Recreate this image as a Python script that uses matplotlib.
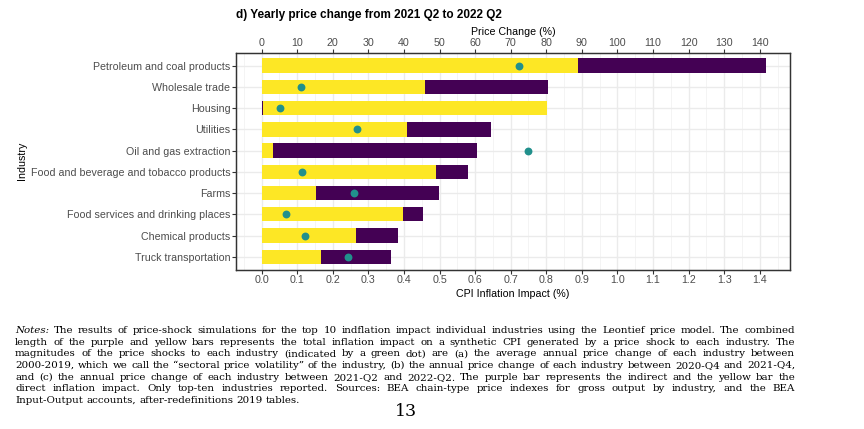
import numpy as np
import matplotlib
matplotlib.use("Agg")
import matplotlib.pyplot as plt
from matplotlib.ticker import MultipleLocator

# --- data ---
industries = [
    "Petroleum and coal products",
    "Wholesale trade",
    "Housing",
    "Utilities",
    "Oil and gas extraction",
    "Food and beverage and tobacco products",
    "Farms",
    "Food services and drinking places",
    "Chemical products",
    "Truck transportation",
]
direct = [0.889, 0.459, 0.797, 0.409, 0.033, 0.490, 0.153, 0.398, 0.266, 0.168]
indirect = [0.529, 0.347, 0.004, 0.235, 0.572, 0.089, 0.345, 0.056, 0.116, 0.197]
price_change = [72.4, 11.0, 5.2, 26.8, 74.8, 11.3, 26.0, 6.9, 12.2, 24.4]

notes_lines = [
    "Notes: The results of price-shock simulations for the top 10 indflation impact individual industries using the Leontief price model. The combined",
    "length of the purple and yellow bars represents the total inflation impact on a synthetic CPI generated by a price shock to each industry. The",
    "magnitudes of the price shocks to each industry (indicated by a green dot) are (a) the average annual price change of each industry between",
    "2000-2019, which we call the \u201csectoral price volatility\u201d of the industry, (b) the annual price change of each industry between 2020-Q4 and 2021-Q4,",
    "and (c) the annual price change of each industry between 2021-Q2 and 2022-Q2. The purple bar represents the indirect and the yellow bar the",
    "direct inflation impact. Only top-ten industries reported. Sources: BEA chain-type price indexes for gross output by industry, and the BEA",
    "Input-Output accounts, after-redefinitions 2019 tables.",
]

YELLOW = "#FDE725"
PURPLE = "#440154"
TEAL = "#21908C"
W, H = 864, 429
TS = 7.7  # tick / label font size

plt.rcParams["font.family"] = ["Liberation Sans", "DejaVu Sans"]
fig = plt.figure(figsize=(W / 100, H / 100), dpi=100)
ax = fig.add_axes([236 / W, 1 - 269.5 / H, (790 - 236) / W, (269.5 - 52.8) / H])

y = np.arange(len(industries))
direct = np.array(direct)
indirect = np.array(indirect)
# housing has its sliver of indirect impact on the left
left_ind = np.array([n == "Housing" for n in industries])
d_left = np.where(left_ind, indirect, 0)
i_left = np.where(left_ind, 0, direct)
ax.barh(y, direct, left=d_left, height=0.68, color=YELLOW, zorder=2)
ax.barh(y, indirect, left=i_left, height=0.68, color=PURPLE, zorder=2)

xlo, xhi = -0.072, 1.485
ax.set_xlim(xlo, xhi)
ax.set_ylim(len(industries) - 0.4, -0.6)
ax.set_yticks(y)
ax.set_yticklabels(industries)
ax.xaxis.set_minor_locator(MultipleLocator(0.05))
ax.set_xticks(np.arange(0, 1.41, 0.1))
ax.set_xticklabels([f"{v:.1f}" for v in np.arange(0, 1.41, 0.1)])
ax.grid(which="major", color="#EBEBEB", linewidth=1.0, zorder=0)
ax.grid(which="minor", axis="x", color="#F2F2F2", linewidth=0.6, zorder=0)
ax.set_axisbelow(True)
ax.tick_params(which="major", length=2.8, width=0.8, color="#333333",
               labelsize=TS, labelcolor="#4D4D4D", pad=1.2)
ax.tick_params(which="minor", length=0)
for s in ax.spines.values():
    s.set_color("#333333")
    s.set_linewidth(0.9)
ax.set_xlabel("CPI Inflation Impact (%)", fontsize=TS, labelpad=3.0)
ax.set_ylabel("Industry", fontsize=TS)
ax.yaxis.set_label_coords((27 - 236) / (790 - 236), 0.5)

# top axis: price change of each industry
ax2 = ax.twiny()
ax2.set_xlim(xlo * 100, xhi * 100)
ax2.set_xticks(np.arange(0, 141, 10))
ax2.scatter(price_change, y, s=32, color=TEAL, zorder=3, linewidths=0)
ax2.tick_params(length=2.8, width=0.8, color="#333333",
                labelsize=TS, labelcolor="#4D4D4D", pad=0.6)
for s in ax2.spines.values():
    s.set_color("#333333")
    s.set_linewidth(0.9)
ax2.set_xlabel("Price Change (%)", fontsize=TS, labelpad=2.0)

fig.text(236 / W, 1 - 15.0 / H, "d) Yearly price change from 2021 Q2 to 2022 Q2",
         fontsize=8.5, fontweight="bold", ha="left", va="center")

# --- notes, justified like the LaTeX page ---
fig.canvas.draw()
renderer = fig.canvas.get_renderer()
x0, x1 = 15, 795
serif = ["DejaVu Serif"]


def measure(s, size, style="normal"):
    t = fig.text(0, 0, s, fontsize=size, family=serif, style=style)
    w = t.get_window_extent(renderer).width
    t.remove()
    return w


# scale the serif size so the widest full line fits the text block
base = 7.0
widest = max(measure(l, base) for l in notes_lines[:-1])
fs = base * (x1 - x0 - 4) / widest

space = measure("a a", fs) - measure("aa", fs)
for i, line in enumerate(notes_lines):
    yy = 1 - (333.0 + i * 11.67) / H
    words = line.split(" ")
    texts = []
    for j, w in enumerate(words):
        style = "italic" if (i == 0 and j == 0) else "normal"
        t = fig.text(0, yy, w, fontsize=fs, family=serif, style=style,
                     ha="left", va="baseline")
        texts.append(t)
    widths = [t.get_window_extent(renderer).width for t in texts]
    if i < len(notes_lines) - 1:
        gap = (x1 - x0 - sum(widths)) / (len(words) - 1)
    else:
        gap = space
    xp = x0
    for t, wd in zip(texts, widths):
        t.set_x(xp / W)
        xp += wd + gap

fig.text(405.7 / W, 1 - 411 / H, "13", fontsize=12.5, family=serif,
         ha="center", va="center")

fig.savefig("out.png", dpi=100)
